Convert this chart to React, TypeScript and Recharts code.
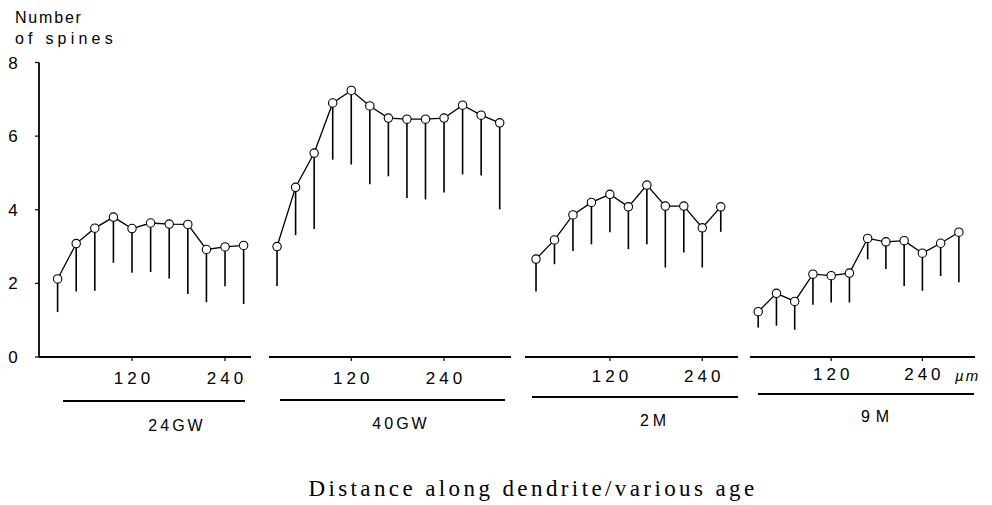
import React from "react";
import { LineChart, Line, XAxis, YAxis, ErrorBar } from "recharts";

// ---- Data (distance along dendrite in µm, mean spines, lower end of bar) ----
const dist24GW = [24, 48, 72, 96, 120, 144, 168, 192, 216, 240, 264];
const mean24GW = [2.12, 3.08, 3.5, 3.8, 3.49, 3.64, 3.61, 3.6, 2.92, 2.99, 3.03];
const low24GW = [1.22, 1.78, 1.8, 2.56, 2.29, 2.31, 2.13, 1.71, 1.49, 1.92, 1.44];

const dist40GW = [24, 48, 72, 96, 120, 144, 168, 192, 216, 240, 264, 288, 312];
const mean40GW = [3.0, 4.61, 5.54, 6.9, 7.24, 6.82, 6.49, 6.46, 6.46, 6.49, 6.84, 6.57, 6.36];
const low40GW = [1.93, 3.31, 3.48, 5.36, 5.23, 4.69, 4.91, 4.32, 4.28, 4.47, 4.96, 4.93, 4.01];

const dist2M = [24, 48, 72, 96, 120, 144, 168, 192, 216, 240, 264];
const mean2M = [2.66, 3.18, 3.86, 4.2, 4.42, 4.08, 4.67, 4.1, 4.1, 3.51, 4.08];
const low2M = [1.78, 2.52, 2.88, 3.06, 3.39, 2.93, 3.06, 2.43, 2.84, 2.43, 3.4];

const dist9M = [24, 48, 72, 96, 120, 144, 168, 192, 216, 240, 264, 288];
const mean9M = [1.23, 1.73, 1.51, 2.25, 2.21, 2.28, 3.22, 3.13, 3.16, 2.82, 3.09, 3.39];
const low9M = [0.8, 0.85, 0.74, 1.42, 1.48, 1.48, 2.65, 2.39, 1.93, 1.8, 2.2, 2.03];

const groupNames = ["24GW", "40GW", "2M", "9M"];
const xTicks = [120, 240];
const yTicks = [0, 2, 4, 6, 8];

// ---- Layout ----
const W = 992;
const H = 505;
const PLOT_TOP = 62.5;
const PLOT_BOTTOM = 357;
const X_AXIS_H = 30;
const SANS = "'Liberation Sans', Arial, Helvetica, sans-serif";
const SERIF = "'Liberation Serif', 'Times New Roman', serif";

type Panel = {
  name: string;
  dist: number[];
  mean: number[];
  low: number[];
  left: number;
  right: number;
  domain: [number, number];
  underline: [number, number, number];
  label: [number, number];
  labelSpacing: number;
  tickDy: number;
};

const panels: Panel[] = [
  { name: groupNames[0], dist: dist24GW, mean: mean24GW, low: low24GW, left: 39, right: 251, domain: [0, 273.5], underline: [63, 245, 401], label: [177, 431], labelSpacing: 3, tickDy: 21 },
  { name: groupNames[1], dist: dist40GW, mean: mean40GW, low: low40GW, left: 269, right: 511, domain: [13.6, 326.6], underline: [280, 505, 400], label: [401, 429], labelSpacing: 3, tickDy: 21 },
  { name: groupNames[2], dist: dist2M, mean: mean2M, low: low2M, left: 525, right: 738, domain: [9.7, 286.4], underline: [532, 738, 397], label: [655, 426], labelSpacing: 4, tickDy: 19 },
  { name: groupNames[3], dist: dist9M, mean: mean9M, low: low9M, left: 750, right: 975, domain: [13.2, 309.2], underline: [758, 974, 394], label: [878, 422], labelSpacing: 6, tickDy: 17 },
];

const XTick = (props: any) => {
  const { x, y, payload, dy } = props;
  return (
    <text x={x + 2} y={y + (dy || 0)} textAnchor="middle" fontFamily={SANS} fontSize={17} letterSpacing={4} fill="#000">
      {payload.value}
    </text>
  );
};

const YTick = (props: any) => {
  const { y, payload } = props;
  return (
    <text x={13} y={y + 6} textAnchor="middle" fontFamily={SANS} fontSize={17} fill="#000">
      {payload.value}
    </text>
  );
};

function PanelChart({ p, showY }: { p: Panel; showY: boolean }) {
  const rows = p.dist.map((d, i) => ({ d, mean: p.mean[i], err: [p.mean[i] - p.low[i], 0] }));
  const yW = 39;
  return (
    <div style={{ position: "absolute", left: 0, top: 0 }}>
      <LineChart
        width={W}
        height={H}
        data={rows}
        margin={{ top: PLOT_TOP, bottom: H - PLOT_BOTTOM - X_AXIS_H, left: showY ? p.left - yW : p.left, right: W - p.right }}
      >
        <XAxis
          dataKey="d"
          type="number"
          domain={p.domain}
          ticks={xTicks}
          height={X_AXIS_H}
          tickSize={4}
          axisLine={{ stroke: "#000", strokeWidth: 1.8 }}
          tickLine={{ stroke: "#000", strokeWidth: 1.2 }}
          tick={<XTick dy={p.tickDy} />}
          allowDataOverflow
        />
        {showY ? (
          <YAxis
            type="number"
            domain={[0, 8]}
            ticks={yTicks}
            width={yW}
            tickSize={4}
            axisLine={{ stroke: "#000", strokeWidth: 1.8 }}
            tickLine={{ stroke: "#000", strokeWidth: 1.2 }}
            tick={<YTick />}
          />
        ) : (
          <YAxis type="number" domain={[0, 8]} hide width={0} />
        )}
        <Line
          type="linear"
          dataKey="mean"
          stroke="#000"
          strokeWidth={1.3}
          isAnimationActive={false}
          dot={{ r: 4.2, fill: "#fff", stroke: "#000", strokeWidth: 1.1 }}
        >
          <ErrorBar dataKey="err" direction="y" width={0} stroke="#000" strokeWidth={1.6} isAnimationActive={false} />
        </Line>
      </LineChart>
    </div>
  );
}

export default function App() {
  return (
    <div style={{ position: "absolute", left: 0, top: 0, width: W, height: H, background: "#fff", overflow: "hidden" }}>
      {panels.map((p, i) => (
        <PanelChart key={p.name} p={p} showY={i === 0} />
      ))}
      <svg width={W} height={H} style={{ position: "absolute", left: 0, top: 0, pointerEvents: "none" }}>
        <text x={15} y={23} fontFamily={SANS} fontSize={16} fill="#000" letterSpacing={1.8}>Number</text>
        <text x={15} y={44} fontFamily={SANS} fontSize={16} fill="#000" letterSpacing={4.2}>of spines</text>
        <text x={955} y={381} fontFamily={SANS} fontSize={15} fontStyle="italic" fill="#000" letterSpacing={2}>µm</text>
        {panels.map((p) => (
          <g key={p.name}>
            <line x1={p.underline[0]} x2={p.underline[1]} y1={p.underline[2]} y2={p.underline[2]} stroke="#000" strokeWidth={1.8} />
            <text x={p.label[0]} y={p.label[1]} textAnchor="middle" fontFamily={SANS} fontSize={16} letterSpacing={p.labelSpacing} fill="#000">
              {p.name}
            </text>
          </g>
        ))}
        <text x={533} y={496} textAnchor="middle" fontFamily={SERIF} fontSize={23} letterSpacing={3.4} fill="#000">
          Distance along dendrite/various age
        </text>
      </svg>
    </div>
  );
}
